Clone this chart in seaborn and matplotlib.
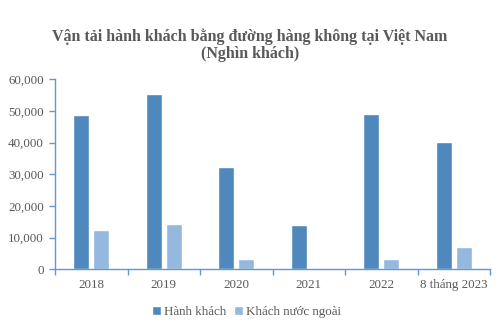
import matplotlib
matplotlib.use("Agg")
import matplotlib.pyplot as plt
import seaborn as sns
import pandas as pd
import numpy as np
from matplotlib.ticker import FuncFormatter, FixedLocator

categories = ["2018", "2019", "2020", "2021", "2022", "8 tháng 2023"]
hanh_khach = [48700, 55400, 32300, 14000, 49000, 40200]
khach_nuoc_ngoai = [12400, 14300, 3300, 500, 3300, 7000]
series_names = ["Hành khách", "Khách nước ngoài"]
title = "Vận tải hành khách bằng đường hàng không tại Việt Nam\n(Nghìn khách)"

df = pd.DataFrame({
    "cat": categories * 2,
    "val": hanh_khach + khach_nuoc_ngoai,
    "series": [series_names[0]] * len(categories) + [series_names[1]] * len(categories),
})

sns.set_style("white")
plt.rcParams["font.family"] = ["Liberation Serif", "DejaVu Serif"]

text_col = "#595959"
axis_col = "#5B9BD5"
fs = 9.4

fig = plt.figure(figsize=(5, 3.28), dpi=100)
ax = fig.add_axes([0.11, 0.179, 0.87, 0.579])

sns.barplot(data=df, x="cat", y="val", hue="series", order=categories,
            hue_order=series_names, palette=["#4F88BC", "#95B8DE"],
            width=0.55, gap=0.2, saturation=1, ax=ax, errorbar=None)

ax.set_ylim(0, 60000)
ax.set_xlim(-0.5, len(categories) - 0.5)
ax.yaxis.set_major_locator(FixedLocator(np.arange(0, 60001, 10000)))
ax.yaxis.set_major_formatter(FuncFormatter(lambda v, p: f"{int(v):,}"))
ax.set_xlabel("")
ax.set_ylabel("")

for s in ["top", "right"]:
    ax.spines[s].set_visible(False)
for s in ["left", "bottom"]:
    ax.spines[s].set_visible(True)
    ax.spines[s].set_color(axis_col)
    ax.spines[s].set_linewidth(1.0)

ax.tick_params(axis="y", which="major", length=4, width=1, color=axis_col,
               labelsize=fs, labelcolor=text_col, pad=4, left=True)
ax.tick_params(axis="x", which="major", length=0, labelsize=fs,
               labelcolor=text_col, pad=7)
ax.set_xticks(np.arange(-0.5, len(categories), 1.0), minor=True)
ax.tick_params(axis="x", which="minor", length=4, width=1, color=axis_col,
               bottom=True, direction="out")

leg = ax.legend(loc="upper center", bbox_to_anchor=(0.44, -0.13), ncol=2,
                frameon=False, fontsize=fs, handlelength=0.7, handleheight=0.7,
                handletextpad=0.2, columnspacing=0.6, labelcolor=text_col)

fig.text(0.5, 0.862, title, ha="center", va="center", fontsize=11.5,
         fontweight="bold", color=text_col, linespacing=1.1)

fig.savefig("out.png", dpi=100)
